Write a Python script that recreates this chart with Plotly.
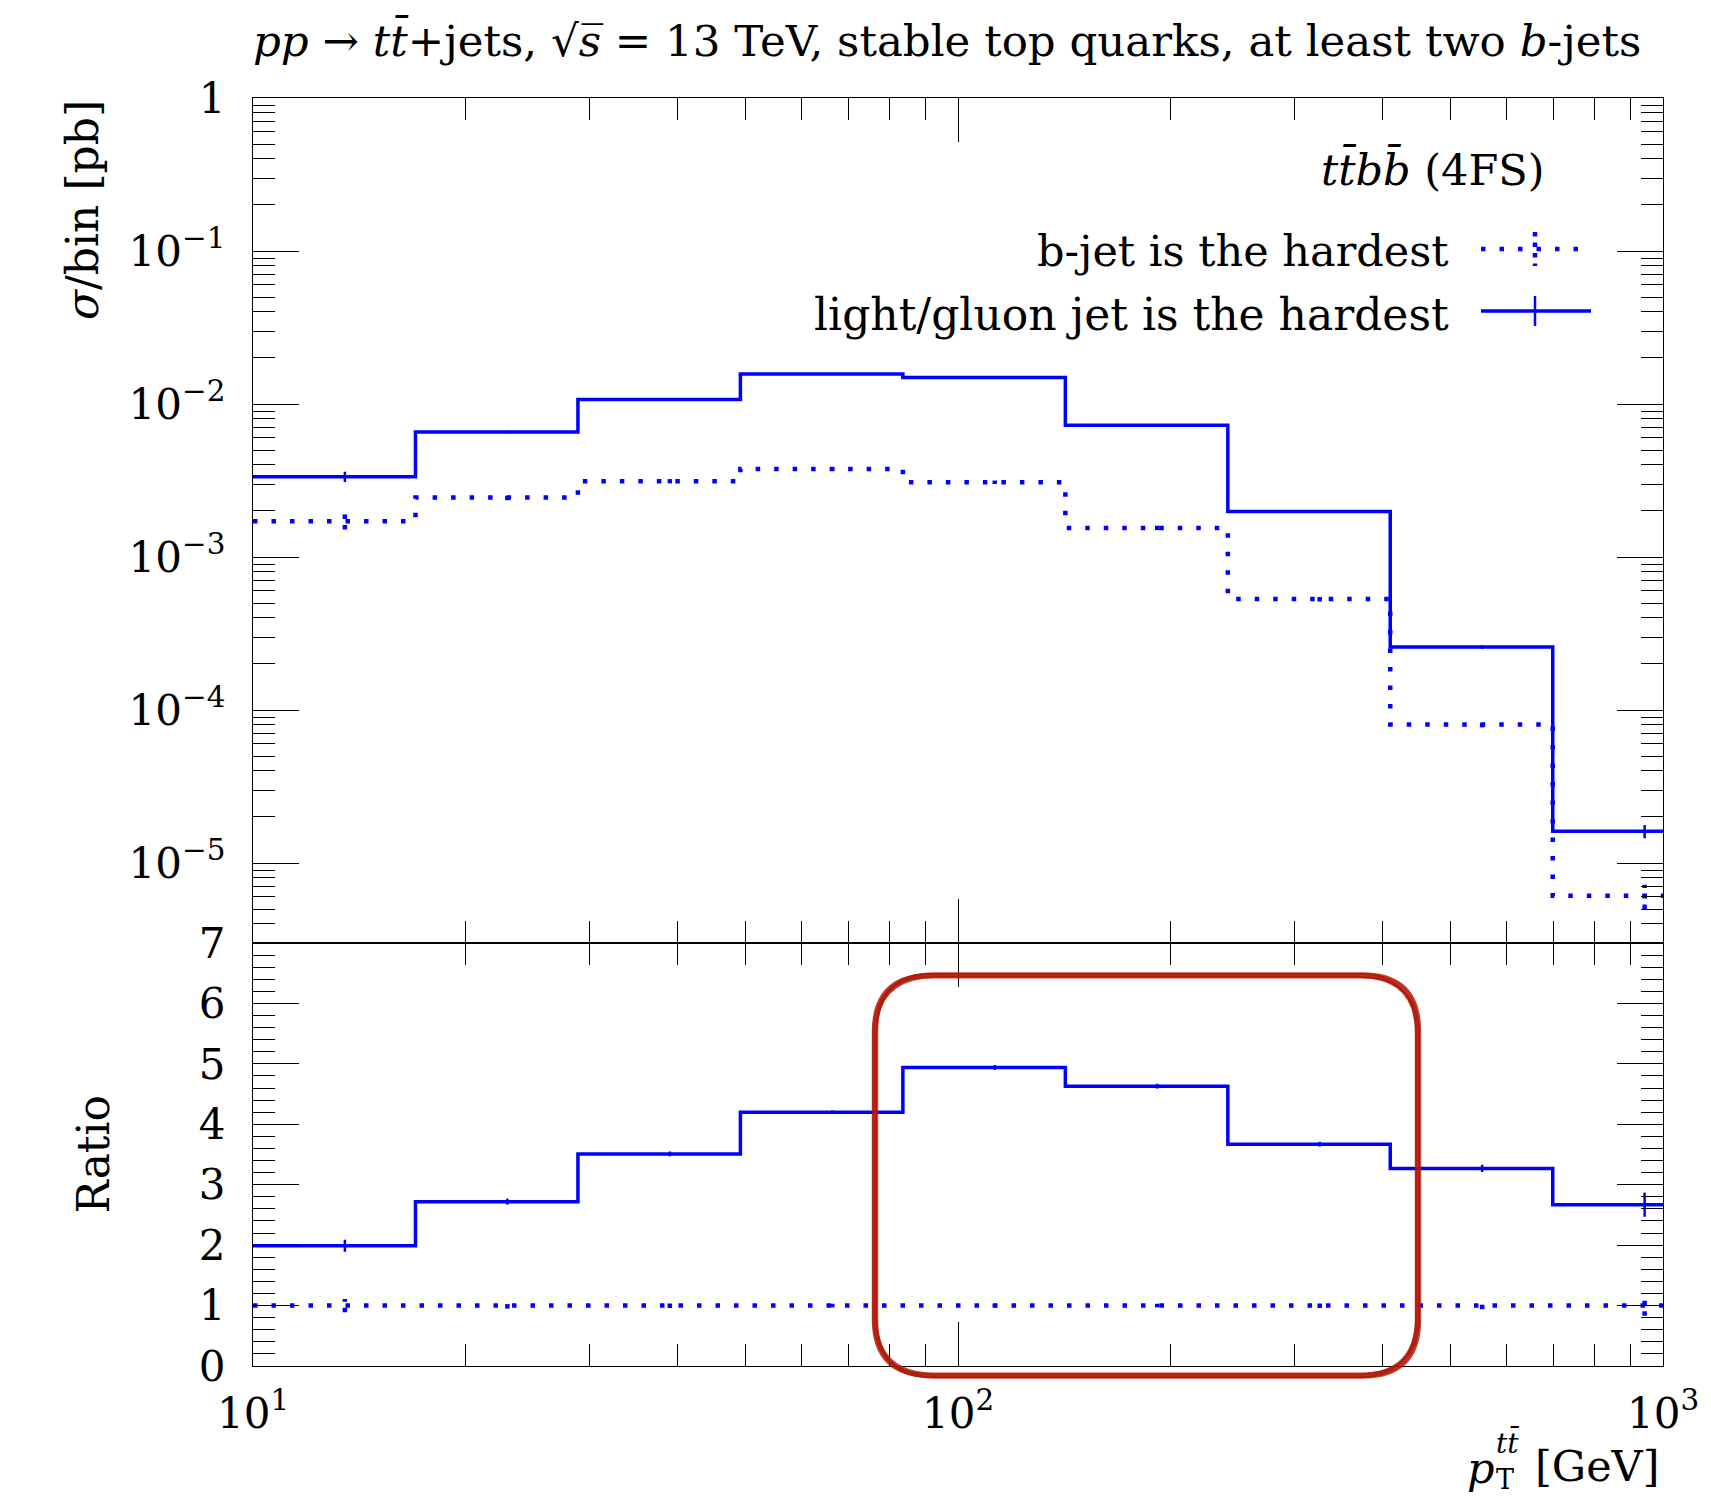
import plotly.graph_objects as go
import numpy as np

# ---------------- data ----------------
bin_edges = [10.0, 17.0, 28.9, 49.13, 83.52, 142.0, 241.4, 410.3, 697.6, 1185.9]
light_xsec = [3.35e-3, 6.57e-3, 1.07e-2, 1.57e-2, 1.49e-2, 7.25e-3, 1.98e-3, 2.58e-4, 1.61e-5]
light_err = [2.6e-4, 1.3e-4, 2.0e-4, 2.5e-4, 2.5e-4, 1.3e-4, 4.0e-5, 7.0e-6, 1.6e-6]
bjet_xsec = [1.71e-3, 2.45e-3, 3.13e-3, 3.76e-3, 3.08e-3, 1.55e-3, 5.32e-4, 8.05e-5, 6.1e-6]
bjet_err = [2.0e-4, 1.0e-4, 1.0e-4, 1.0e-4, 0.8e-4, 0.5e-4, 2.0e-5, 3.5e-6, 1.1e-6]
ratio_light = [1.99, 2.72, 3.51, 4.20, 4.94, 4.63, 3.67, 3.27, 2.67]
ratio_light_err = [0.10, 0.05, 0.04, 0.03, 0.04, 0.04, 0.04, 0.06, 0.20]
ratio_bjet = [1.0, 1.0, 1.0, 1.0, 1.0, 1.0, 1.0, 1.0, 1.0]
ratio_bjet_err = [0.11, 0.05, 0.04, 0.03, 0.03, 0.03, 0.04, 0.06, 0.17]

upper_tickvals = [1, 1e-1, 1e-2, 1e-3, 1e-4, 1e-5]
upper_ticktext = ["1", "10<sup>\u22121</sup>", "10<sup>\u22122</sup>", "10<sup>\u22123</sup>",
                  "10<sup>\u22124</sup>", "10<sup>\u22125</sup>"]
x_tickvals = [10, 100, 1000]
x_ticktext = ["10<sup>1</sup>", "10<sup>2</sup>", "10<sup>3</sup>"]
ratio_tickvals = [0, 1, 2, 3, 4, 5, 6, 7]

BLUE = "#0000ff"
FONT = "DejaVu Serif"
TXT = 43
TICK = 42

# ---------------- geometry ----------------
W, H = 1711, 1499
L, R, T, B = 253, 1663, 98, 1366
MID = 943
split = (B - MID) / (B - T)


def px(xp):
    return (xp - L) / (R - L)


def py(yp):
    return (B - yp) / (B - T)


def steps(edges, vals):
    xs, ys = [], []
    for i, v in enumerate(vals):
        xs += [edges[i], edges[i + 1]]
        ys += [v, v]
    return xs, ys


def err_segments(centers, vals, errs):
    xs, ys = [], []
    for c, v, e in zip(centers, vals, errs):
        xs += [c, c, None]
        ys += [v - e, v + e, None]
    return xs, ys


centers = [(bin_edges[i] + bin_edges[i + 1]) / 2 for i in range(len(bin_edges) - 1)]

fig = go.Figure()

DOT = "4.5px,14px"
DOTV = "4.5px,6px"

# upper panel
sx, sy = steps(bin_edges, bjet_xsec)
fig.add_trace(go.Scatter(x=sx, y=sy, mode="lines", line=dict(color=BLUE, width=4.5, dash=DOT),
                         xaxis="x", yaxis="y", showlegend=False))
ex, ey = err_segments(centers, bjet_xsec, bjet_err)
fig.add_trace(go.Scatter(x=ex, y=ey, mode="lines", line=dict(color=BLUE, width=4.5, dash=DOTV),
                         xaxis="x", yaxis="y", showlegend=False))
sx, sy = steps(bin_edges, light_xsec)
fig.add_trace(go.Scatter(x=sx, y=sy, mode="lines", line=dict(color=BLUE, width=3.5),
                         xaxis="x", yaxis="y", showlegend=False))
ex, ey = err_segments(centers, light_xsec, light_err)
fig.add_trace(go.Scatter(x=ex, y=ey, mode="lines", line=dict(color=BLUE, width=2.5),
                         xaxis="x", yaxis="y", showlegend=False))

# ratio panel
sx, sy = steps(bin_edges, ratio_bjet)
fig.add_trace(go.Scatter(x=sx, y=sy, mode="lines", line=dict(color=BLUE, width=4.5, dash=DOT),
                         xaxis="x2", yaxis="y2", showlegend=False))
ex, ey = err_segments(centers, ratio_bjet, ratio_bjet_err)
fig.add_trace(go.Scatter(x=ex, y=ey, mode="lines", line=dict(color=BLUE, width=4.5, dash=DOTV),
                         xaxis="x2", yaxis="y2", showlegend=False))
sx, sy = steps(bin_edges, ratio_light)
fig.add_trace(go.Scatter(x=sx, y=sy, mode="lines", line=dict(color=BLUE, width=3.5),
                         xaxis="x2", yaxis="y2", showlegend=False))
ex, ey = err_segments(centers, ratio_light, ratio_light_err)
fig.add_trace(go.Scatter(x=ex, y=ey, mode="lines", line=dict(color=BLUE, width=2.5),
                         xaxis="x2", yaxis="y2", showlegend=False))

minor_x = [k * 10 ** e for e in (1, 2) for k in range(2, 10)]
minor_y = [k * 10 ** e for e in range(-6, 0) for k in range(2, 10)]

axcommon = dict(showgrid=False, zeroline=False, showline=True, linecolor="black", linewidth=1.4,
                mirror="allticks", ticks="inside", tickcolor="black", tickwidth=1.3)

xaxis_common = dict(type="log", range=[1, 3], tickvals=x_tickvals, ticklen=44,
                    minor=dict(tickvals=minor_x, ticks="inside", ticklen=22, tickwidth=1.3,
                               tickcolor="black", showgrid=False),
                    **axcommon)

fig.update_layout(
    width=W, height=H,
    margin=dict(l=L, r=W - R, t=T, b=H - B),
    paper_bgcolor="white", plot_bgcolor="white",
    font=dict(family=FONT, color="black", size=TXT),
    xaxis=dict(anchor="y", showticklabels=False, **xaxis_common),
    xaxis2=dict(anchor="y2", matches="x", showticklabels=True, ticktext=x_ticktext,
                tickfont=dict(size=TICK, family=FONT), ticklabelstandoff=10, **xaxis_common),
    yaxis=dict(type="log", domain=[split, 1], range=[np.log10(3e-6), 0], tickvals=upper_tickvals,
               ticktext=upper_ticktext, ticklen=46, tickfont=dict(size=TICK, family=FONT),
               ticklabelstandoff=18,
               minor=dict(tickvals=minor_y, ticks="inside", ticklen=22, tickwidth=1.3,
                          tickcolor="black", showgrid=False),
               **axcommon),
    yaxis2=dict(domain=[0, split], range=[0, 7], tickvals=ratio_tickvals, ticklen=46,
                tickfont=dict(size=TICK, family=FONT), ticklabelstandoff=18,
                minor=dict(dtick=0.2, ticks="inside", ticklen=22, tickwidth=1.3,
                           tickcolor="black", showgrid=False),
                **axcommon),
)

ann = []
ann.append(dict(text="<i>pp</i> \u2192 <i>t</i><i>t\u0304</i>+jets, \u221a<i>s\u0305</i> = 13 TeV, stable top quarks, at least two <i>b</i>-jets",
                x=px(947), y=py(40), xref="paper", yref="paper", xanchor="center", yanchor="middle",
                showarrow=False, font=dict(size=43.5)))
ann.append(dict(text="<i>\u03c3</i>/bin [pb]", textangle=-90, x=px(82), y=1.0, xref="paper", yref="paper",
                xanchor="center", yanchor="top", showarrow=False, font=dict(size=44)))
ann.append(dict(text="Ratio", textangle=-90, x=px(93), y=split / 2, xref="paper", yref="paper",
                xanchor="center", yanchor="middle", showarrow=False, font=dict(size=44)))
ann.append(dict(text="<i>tt\u0304bb\u0304</i> (4FS)", x=px(1547), y=py(169), xref="paper", yref="paper",
                xanchor="right", yanchor="middle", showarrow=False, font=dict(size=TXT)))
ann.append(dict(text="b-jet is the hardest", x=px(1451), y=py(251), xref="paper", yref="paper",
                xanchor="right", yanchor="middle", showarrow=False, font=dict(size=TXT)))
ann.append(dict(text="light/gluon jet is the hardest", x=px(1451), y=py(314), xref="paper", yref="paper",
                xanchor="right", yanchor="middle", showarrow=False, font=dict(size=44)))
# x-axis title pieces
ann.append(dict(text="[GeV]", x=px(1661), y=py(1466), xref="paper", yref="paper",
                xanchor="right", yanchor="middle", showarrow=False, font=dict(size=TXT)))
ann.append(dict(text="<i>p</i>", x=px(1497), y=py(1468), xref="paper", yref="paper",
                xanchor="right", yanchor="middle", showarrow=False, font=dict(size=TXT)))
ann.append(dict(text="<i>tt\u0304</i>", x=px(1494), y=py(1442), xref="paper", yref="paper",
                xanchor="left", yanchor="middle", showarrow=False, font=dict(size=28)))
ann.append(dict(text="T", x=px(1494), y=py(1480), xref="paper", yref="paper",
                xanchor="left", yanchor="middle", showarrow=False, font=dict(size=27)))
fig.update_layout(annotations=ann)

shapes = []
# legend swatches
shapes.append(dict(type="line", xref="paper", yref="paper", x0=px(1481), x1=px(1591), y0=py(311), y1=py(311),
                   line=dict(color=BLUE, width=3.5)))
shapes.append(dict(type="line", xref="paper", yref="paper", x0=px(1535), x1=px(1535), y0=py(296), y1=py(326),
                   line=dict(color=BLUE, width=2.5)))
shapes.append(dict(type="line", xref="paper", yref="paper", x0=px(1481), x1=px(1591), y0=py(249), y1=py(249),
                   line=dict(color=BLUE, width=4.5, dash=DOT)))
shapes.append(dict(type="line", xref="paper", yref="paper", x0=px(1535), x1=px(1535), y0=py(232), y1=py(266),
                   line=dict(color=BLUE, width=4.5, dash=DOTV)))


def rounded_rect(x0, y0, x1, y1, r):
    pts = [("M", [(x0 + r, y0)]), ("L", [(x1 - r, y0)]), ("Q", [(x1, y0), (x1, y0 + r)]),
           ("L", [(x1, y1 - r)]), ("Q", [(x1, y1), (x1 - r, y1)]), ("L", [(x0 + r, y1)]),
           ("Q", [(x0, y1), (x0, y1 - r)]), ("L", [(x0, y0 + r)]), ("Q", [(x0, y0), (x0 + r, y0)])]
    s = ""
    for cmd, p in pts:
        s += cmd + " " + " ".join(f"{px(a):.5f},{py(b):.5f}" for a, b in p) + " "
    return s + "Z"


for dx, dy, w in [(0, 0, 4.0), (2.0, -1.5, 2.5), (-1.5, 1.5, 2.5), (1.0, 2.5, 2.0), (-2.5, -1.0, 1.5)]:
    shapes.append(dict(type="path", xref="paper", yref="paper",
                       path=rounded_rect(875 + dx, 975 + dy, 1418 + dx, 1376 - dy, 58),
                       line=dict(color="rgba(176,24,8,0.8)", width=w)))
fig.update_layout(shapes=shapes)

fig.write_html("out.html")
